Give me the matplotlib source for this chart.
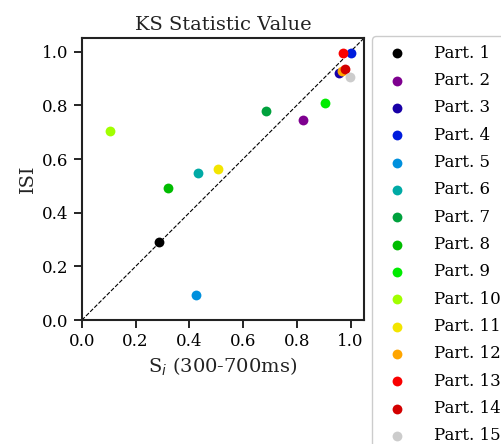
import numpy as np
import matplotlib
matplotlib.use("Agg")
import matplotlib.pyplot as plt

# Participant labels and KS statistic values
parts = ["Part. %d" % i for i in range(1, 16)]
si_vals = [0.288, 0.823, 0.956, 1.000, 0.426, 0.432, 0.684, 0.322, 0.905,
           0.105, 0.508, 0.967, 0.973, 0.981, 0.997]
isi_vals = [0.292, 0.747, 0.919, 0.994, 0.093, 0.549, 0.778, 0.491, 0.807,
            0.703, 0.564, 0.927, 0.996, 0.937, 0.907]
ticks = [0.0, 0.2, 0.4, 0.6, 0.8, 1.0]

plt.rcParams["font.family"] = ["DejaVu Serif"]

colors = plt.cm.nipy_spectral(np.linspace(0, 1, len(parts)))

fig = plt.figure(figsize=(5.02, 4.44), dpi=100)
ax = fig.add_axes([0.163, 0.279, 0.562, 0.635])

ax.plot([0, 1.1], [0, 1.1], "k--", lw=0.8, zorder=1)
for name, x, y, c in zip(parts, si_vals, isi_vals, colors):
    ax.scatter(x, y, s=50, color=c, label=name, zorder=2, linewidths=0)

ax.set_xlim(0, 1.05)
ax.set_ylim(0, 1.05)
ax.set_xticks(ticks)
ax.set_yticks(ticks)
ax.tick_params(labelsize=12, length=6, width=1.2)
for sp in ax.spines.values():
    sp.set_linewidth(1.5)
    sp.set_color("#222222")

ax.set_title("KS Statistic Value", fontsize=14, color="#222222")
ax.set_xlabel("S$_i$ (300-700ms)", fontsize=14, color="#222222")
ax.set_ylabel("ISI", fontsize=14, color="#222222")

ax.legend(loc="upper left", bbox_to_anchor=(1.0, 1.036), fontsize=12,
          handletextpad=1.2, labelspacing=0.62, borderpad=0.5,
          edgecolor="#cccccc", framealpha=1)

fig.savefig("out.png", dpi=100)
